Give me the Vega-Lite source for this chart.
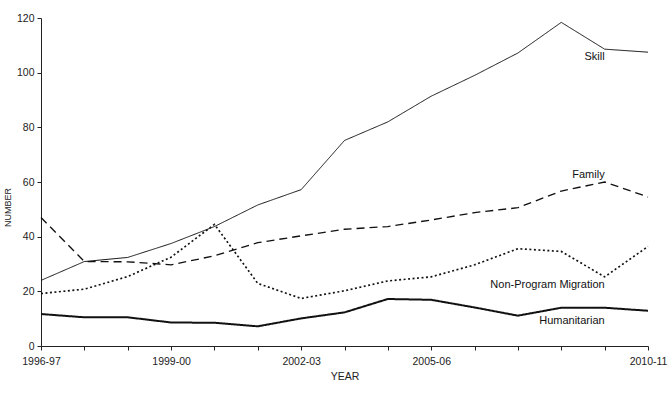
{
  "$schema": "https://vega.github.io/schema/vega-lite/v6.json",
  "width": 607,
  "height": 328,
  "autosize": {"type": "none"},
  "padding": {"left": 41, "top": 18, "right": 21, "bottom": 47},
  "background": "white",
  "config": {
    "view": {"stroke": null},
    "font": "Liberation Sans",
    "axis": {
      "grid": false,
      "domainColor": "#222",
      "tickColor": "#222",
      "labelColor": "#222",
      "titleColor": "#222",
      "labelFont": "Liberation Sans",
      "titleFont": "Liberation Sans",
      "labelFontSize": 10.5,
      "titleFontSize": 10.5,
      "titleFontWeight": "normal",
      "tickSize": 4
    }
  },
  "datasets": {
    "series": [
      {"year": "1996-97", "series": "Skill", "value": 24},
      {"year": "1997-98", "series": "Skill", "value": 30.9},
      {"year": "1998-99", "series": "Skill", "value": 32.4},
      {"year": "1999-00", "series": "Skill", "value": 37.5},
      {"year": "2000-01", "series": "Skill", "value": 43.7},
      {"year": "2001-02", "series": "Skill", "value": 51.6},
      {"year": "2002-03", "series": "Skill", "value": 57.2},
      {"year": "2003-04", "series": "Skill", "value": 75.2},
      {"year": "2004-05", "series": "Skill", "value": 82},
      {"year": "2005-06", "series": "Skill", "value": 91.4},
      {"year": "2006-07", "series": "Skill", "value": 99},
      {"year": "2007-08", "series": "Skill", "value": 107.2},
      {"year": "2008-09", "series": "Skill", "value": 118.4},
      {"year": "2009-10", "series": "Skill", "value": 108.6},
      {"year": "2010-11", "series": "Skill", "value": 107.5},
      {"year": "1996-97", "series": "Family", "value": 47},
      {"year": "1997-98", "series": "Family", "value": 30.9},
      {"year": "1998-99", "series": "Family", "value": 30.8},
      {"year": "1999-00", "series": "Family", "value": 29.7},
      {"year": "2000-01", "series": "Family", "value": 33},
      {"year": "2001-02", "series": "Family", "value": 37.8},
      {"year": "2002-03", "series": "Family", "value": 40.3},
      {"year": "2003-04", "series": "Family", "value": 42.7},
      {"year": "2004-05", "series": "Family", "value": 43.7},
      {"year": "2005-06", "series": "Family", "value": 46.1},
      {"year": "2006-07", "series": "Family", "value": 48.8},
      {"year": "2007-08", "series": "Family", "value": 50.6},
      {"year": "2008-09", "series": "Family", "value": 56.7},
      {"year": "2009-10", "series": "Family", "value": 60},
      {"year": "2010-11", "series": "Family", "value": 54.5},
      {"year": "1996-97", "series": "Non-Program Migration", "value": 19.2},
      {"year": "1997-98", "series": "Non-Program Migration", "value": 20.8},
      {"year": "1998-99", "series": "Non-Program Migration", "value": 25.4},
      {"year": "1999-00", "series": "Non-Program Migration", "value": 32.5},
      {"year": "2000-01", "series": "Non-Program Migration", "value": 44.5},
      {"year": "2001-02", "series": "Non-Program Migration", "value": 22.9},
      {"year": "2002-03", "series": "Non-Program Migration", "value": 17.4},
      {"year": "2003-04", "series": "Non-Program Migration", "value": 20.2},
      {"year": "2004-05", "series": "Non-Program Migration", "value": 23.8},
      {"year": "2005-06", "series": "Non-Program Migration", "value": 25.3},
      {"year": "2006-07", "series": "Non-Program Migration", "value": 29.7},
      {"year": "2007-08", "series": "Non-Program Migration", "value": 35.6},
      {"year": "2008-09", "series": "Non-Program Migration", "value": 34.6},
      {"year": "2009-10", "series": "Non-Program Migration", "value": 25.3},
      {"year": "2010-11", "series": "Non-Program Migration", "value": 36.4},
      {"year": "1996-97", "series": "Humanitarian", "value": 11.7},
      {"year": "1997-98", "series": "Humanitarian", "value": 10.5},
      {"year": "1998-99", "series": "Humanitarian", "value": 10.5},
      {"year": "1999-00", "series": "Humanitarian", "value": 8.6},
      {"year": "2000-01", "series": "Humanitarian", "value": 8.5},
      {"year": "2001-02", "series": "Humanitarian", "value": 7.2},
      {"year": "2002-03", "series": "Humanitarian", "value": 10.1},
      {"year": "2003-04", "series": "Humanitarian", "value": 12.3},
      {"year": "2004-05", "series": "Humanitarian", "value": 17.2},
      {"year": "2005-06", "series": "Humanitarian", "value": 16.9},
      {"year": "2006-07", "series": "Humanitarian", "value": 14.1},
      {"year": "2007-08", "series": "Humanitarian", "value": 11.1},
      {"year": "2008-09", "series": "Humanitarian", "value": 14},
      {"year": "2009-10", "series": "Humanitarian", "value": 14},
      {"year": "2010-11", "series": "Humanitarian", "value": 12.9}
    ],
    "labels": [
      {"year": "2009-10", "value": 105.7, "label": "Skill"},
      {"year": "2009-10", "value": 62.7, "label": "Family"},
      {"year": "2009-10", "value": 22.5, "label": "Non-Program Migration"},
      {"year": "2009-10", "value": 9.1, "label": "Humanitarian"}
    ]
  },
  "encoding": {
    "x": {
      "field": "year",
      "type": "ordinal",
      "scale": {
        "type": "point",
        "padding": 0,
        "domain": ["1996-97", "1997-98", "1998-99", "1999-00", "2000-01", "2001-02", "2002-03", "2003-04", "2004-05", "2005-06", "2006-07", "2007-08", "2008-09", "2009-10", "2010-11"]
      },
      "axis": {
        "title": "YEAR",
        "labelAngle": 0,
        "labelPadding": 6,
        "titlePadding": 5,
        "labelExpr": "indexof(['1996-97','1999-00','2002-03','2005-06','2010-11'], datum.value) >= 0 ? datum.value : ''"
      }
    },
    "y": {
      "field": "value",
      "type": "quantitative",
      "scale": {"domain": [0, 120], "nice": false},
      "axis": {
        "title": "NUMBER",
        "values": [0, 20, 40, 60, 80, 100, 120],
        "labelPadding": 3,
        "titleX": -29,
        "titleY": 189,
        "titleFontSize": 9
      }
    }
  },
  "layer": [
    {
      "data": {"name": "series"},
      "mark": {"type": "line", "color": "#111"},
      "encoding": {
        "detail": {"field": "series", "type": "nominal"},
        "strokeDash": {
          "field": "series",
          "type": "nominal",
          "scale": {
            "domain": ["Skill", "Family", "Non-Program Migration", "Humanitarian"],
            "range": [[1, 0], [8, 5], [2, 2.5], [1, 0]]
          },
          "legend": null
        },
        "strokeWidth": {
          "field": "series",
          "type": "ordinal",
          "scale": {
            "domain": ["Skill", "Family", "Non-Program Migration", "Humanitarian"],
            "range": [1, 2, 2, 2]
          },
          "legend": null
        }
      }
    },
    {
      "data": {"name": "labels"},
      "mark": {"type": "text", "align": "right", "baseline": "middle", "fontSize": 11, "color": "#111", "font": "Liberation Sans"},
      "encoding": {
        "text": {"field": "label", "type": "nominal"}
      }
    }
  ]
}
